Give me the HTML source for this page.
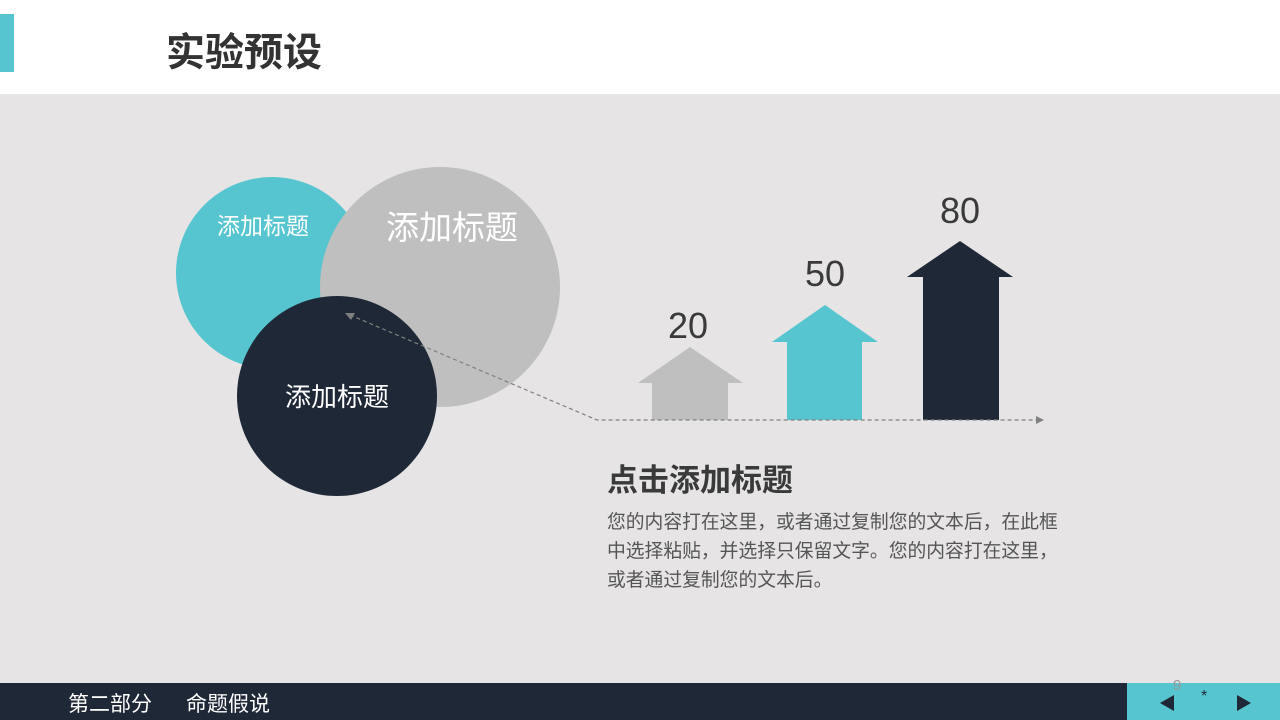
<!DOCTYPE html>
<html><head><meta charset="utf-8"><style>
body{margin:0;width:1280px;height:720px;overflow:hidden;background:#e6e4e5;font-family:"Liberation Sans","Noto Sans CJK SC",sans-serif;position:relative}
.hdr{position:absolute;left:0;top:0;width:1280px;height:94px;background:#fff}
.t{position:absolute;white-space:nowrap}
</style></head><body>
<div class="hdr"></div>
<div style="position:absolute;left:0;top:14px;width:14px;height:58px;background:#56c5cf"></div>
<div class="t" style="left:166px;top:22px;font-size:39px;font-weight:bold;color:#333">实验预设</div>
<svg width="1280" height="720" style="position:absolute;left:0;top:0">
<circle cx="272" cy="273" r="96" fill="#56c5cf"/>
<circle cx="440" cy="287" r="120" fill="#bfbfbf"/>
<circle cx="337" cy="396" r="100" fill="#1f2836"/>
<polygon points="690,347 743,383 728,383 728,420 652,420 652,383 638,383" fill="#bfbfbf"/>
<polygon points="825,305 878,342 862,342 862,420 787,420 787,342 772,342" fill="#56c5cf"/>
<polygon points="960,241 1013,277 999,277 999,420 923,420 923,277 907,277" fill="#1f2836"/>
<polyline points="350,315 597,420 1038,420" fill="none" stroke="#808080" stroke-width="1.2" stroke-dasharray="4,3"/>
<polygon points="345,313 355,313 351,320" fill="#808080"/>
<polygon points="1044,420 1036,416 1036,424" fill="#808080"/>
<text x="263" y="234" font-size="23" fill="#fff" text-anchor="middle" font-family="Liberation Sans,Noto Sans CJK SC,sans-serif">添加标题</text>
<text x="452" y="239" font-size="33" fill="#fff" text-anchor="middle" font-family="Liberation Sans,Noto Sans CJK SC,sans-serif">添加标题</text>
<text x="337" y="406" font-size="26" fill="#fff" text-anchor="middle" font-family="Liberation Sans,Noto Sans CJK SC,sans-serif">添加标题</text>
<text x="688" y="338" font-size="36" fill="#3a3a3a" text-anchor="middle" font-family="Liberation Sans,sans-serif">20</text>
<text x="825" y="286" font-size="36" fill="#3a3a3a" text-anchor="middle" font-family="Liberation Sans,sans-serif">50</text>
<text x="960" y="223" font-size="36" fill="#3a3a3a" text-anchor="middle" font-family="Liberation Sans,sans-serif">80</text>
</svg>
<div class="t" style="left:607px;top:455px;font-size:31px;font-weight:bold;color:#3a3a3a">点击添加标题</div>
<div style="position:absolute;left:607px;top:507px;width:458px;font-size:18.8px;line-height:29px;color:#555">您的内容打在这里，或者通过复制您的文本后，在此框中选择粘贴，并选择只保留文字。您的内容打在这里，或者通过复制您的文本后。</div>
<div style="position:absolute;left:0;top:683px;width:1280px;height:37px;background:#1f2836"></div>
<div style="position:absolute;left:1127px;top:683px;width:153px;height:37px;background:#56c5cf"></div>
<div class="t" style="left:68px;top:688px;font-size:21px;color:#fff">第二部分</div>
<div class="t" style="left:186px;top:688px;font-size:21px;color:#fff">命题假说</div>
<div class="t" style="left:1173px;top:677px;font-size:15px;color:#999">9</div>
<div class="t" style="left:1201px;top:688px;font-size:16px;color:#1f2836">*</div>
<svg width="1280" height="720" style="position:absolute;left:0;top:0">
<polygon points="1160,703 1174,695 1174,711" fill="#1f2836"/>
<polygon points="1251,703 1237,695 1237,711" fill="#1f2836"/>
</svg>
</body></html>
